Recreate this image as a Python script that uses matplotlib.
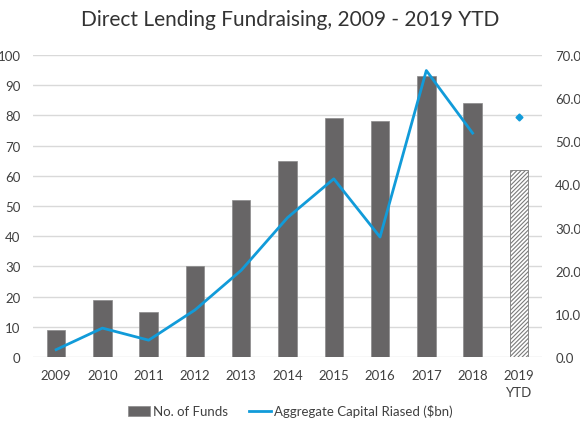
import matplotlib.pyplot as plt
import numpy as np

plt.rcParams['font.family'] = ['Lato', 'DejaVu Sans']

years = ['2009', '2010', '2011', '2012', '2013', '2014', '2015', '2016',
         '2017', '2018', '2019\nYTD']
num_funds = [9, 19, 15, 30, 52, 65, 79, 78, 93, 84, 62]
capital = [1.7, 6.7, 3.9, 10.9, 20.1, 32.3, 41.3, 27.8, 66.4, 51.9]
capital_ytd = 55.6

bar_col = '#676566'
line_col = '#119bd9'
txt_col = '#404040'
grid_col = '#d9d9d9'

x = np.arange(len(years))

fig = plt.figure(figsize=(5.8, 4.35), dpi=100)
ax = fig.add_axes([33 / 580, 1 - 358 / 435, 509 / 580, 302 / 435])

# full years solid, YTD hatched
ax.bar(x[:-1], num_funds[:-1], width=0.4, color=bar_col, edgecolor='#8a8a8a',
       linewidth=0.5, zorder=2, label='No. of Funds')
plt.rcParams['hatch.linewidth'] = 0.8
ax.bar(x[-1], num_funds[-1], width=0.4, color='white', edgecolor='#7a7a7a',
       hatch='////////', linewidth=0.6, zorder=2)

ax.set_xlim(-0.5, len(years) - 0.5)
ax.set_ylim(0, 100)
ax.set_yticks(np.arange(0, 101, 10))
ax.set_xticks(x)
ax.set_xticklabels(years, fontsize=9.5, color=txt_col, linespacing=1.5)
ax.yaxis.grid(True, color=grid_col, linewidth=1)
ax.set_axisbelow(True)
ax.tick_params(axis='both', length=0, labelsize=9.5, labelcolor=txt_col)
ax.tick_params(axis='x', pad=9)
ax.tick_params(axis='y', pad=9)
for s in ax.spines.values():
    s.set_visible(False)

ax2 = ax.twinx()
ax2.plot(x[:-1], capital, color=line_col, linewidth=2.0,
         label='Aggregate Capital Riased ($bn)')
ax2.plot(x[-1], capital_ytd, marker='D', markersize=3.5, color=line_col,
         linestyle='none')
ax2.set_ylim(0, 70)
ax2.set_yticks(np.arange(0, 71, 10))
ax2.set_yticklabels([f'{v:.1f}' for v in np.arange(0, 71, 10)])
ax2.tick_params(axis='y', length=0, labelsize=9.5, labelcolor=txt_col, pad=9.5)
for s in ax2.spines.values():
    s.set_visible(False)

fig.text(0.5, 1 - 20 / 435, 'Direct Lending Fundraising, 2009 - 2019 YTD',
         ha='center', va='center', fontsize=15, color='#333333')

h1, l1 = ax.get_legend_handles_labels()
h2, l2 = ax2.get_legend_handles_labels()
fig.legend(h1 + h2, l1 + l2, loc='center', bbox_to_anchor=(0.5, 1 - 412 / 435),
           ncol=2, frameon=False, fontsize=9.5, labelcolor=txt_col,
           handlelength=1.7, handletextpad=0.2, columnspacing=1.6)

fig.savefig('out.png', dpi=100)
